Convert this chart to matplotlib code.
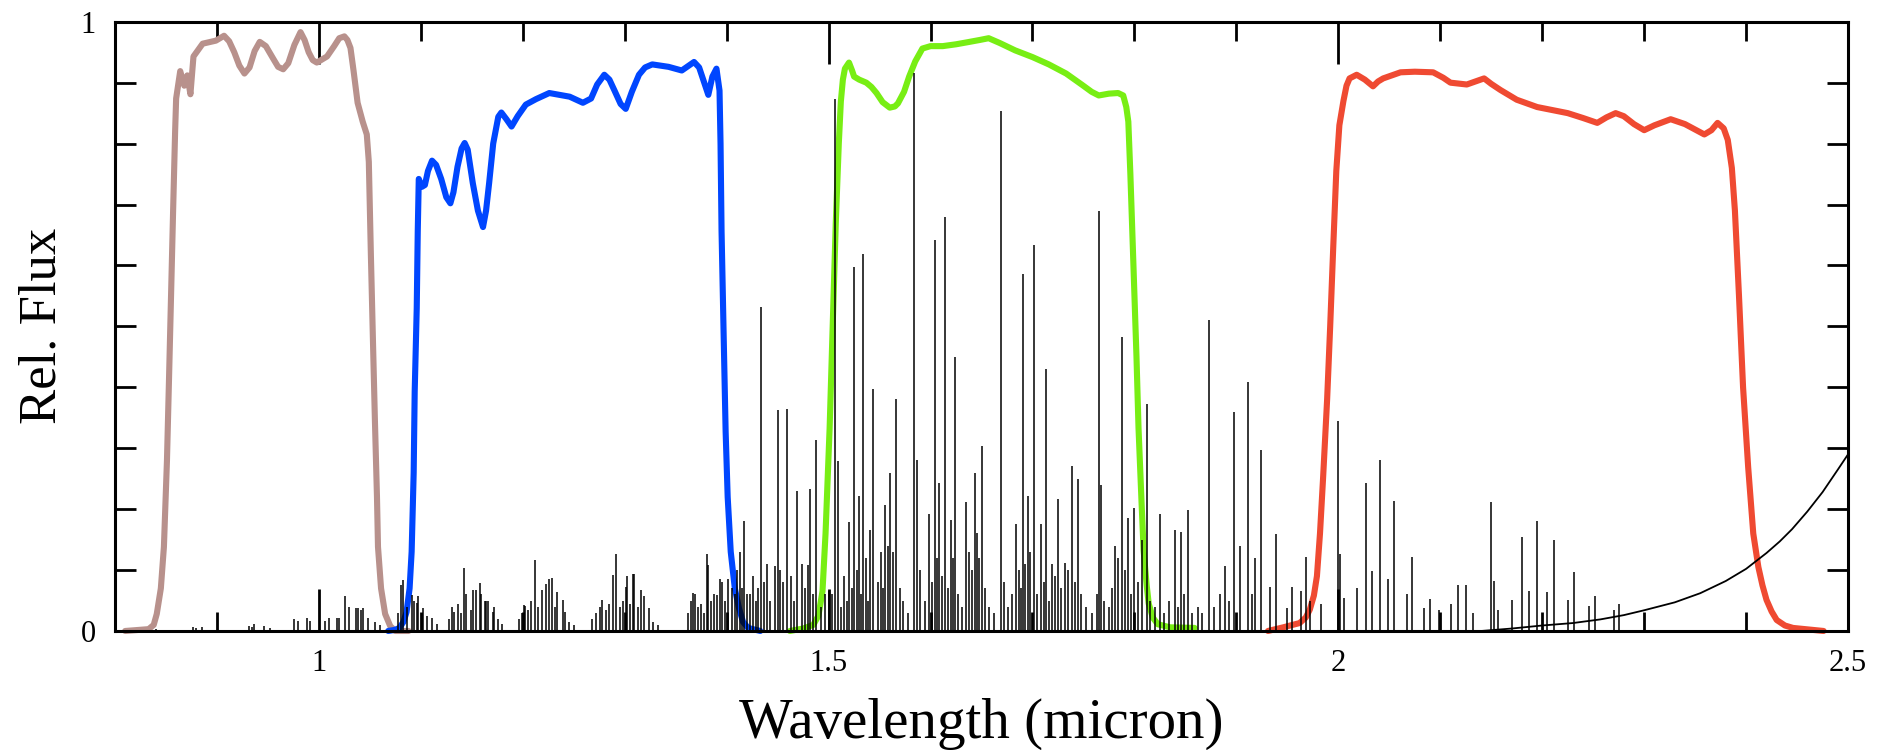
"""
Filter transmission curves (Y, J, H, K) over the near-IR night-sky
emission spectrum (OH lines plus thermal background).
"""

import numpy as np
import matplotlib
matplotlib.use("Agg")
import matplotlib.pyplot as plt
from matplotlib.ticker import MultipleLocator, FixedLocator, FuncFormatter

# -----------------------------
# Filter curves (wavelength in micron, relative transmission)
# -----------------------------
Y_WL = [0.810, 0.833, 0.838, 0.841, 0.845, 0.848, 0.851, 0.853, 0.855, 0.857, 0.859,
        0.860, 0.864, 0.868, 0.871, 0.874, 0.877, 0.886, 0.899, 0.907, 0.912, 0.917,
        0.922, 0.927, 0.932, 0.937, 0.942, 0.948, 0.955, 0.960, 0.965, 0.970, 0.976,
        0.982, 0.986, 0.990, 0.994, 0.998, 1.003, 1.008, 1.015, 1.020, 1.025, 1.028,
        1.031, 1.034, 1.038, 1.043, 1.047, 1.049, 1.051, 1.053, 1.055, 1.057, 1.058,
        1.061, 1.065, 1.070, 1.075, 1.088]
Y_TR = [0.000, 0.003, 0.010, 0.028, 0.070, 0.138, 0.280, 0.413, 0.550, 0.688, 0.820,
        0.874, 0.919, 0.895, 0.912, 0.881, 0.943, 0.964, 0.969, 0.977, 0.968, 0.950,
        0.928, 0.915, 0.925, 0.952, 0.967, 0.960, 0.940, 0.926, 0.922, 0.932, 0.962,
        0.983, 0.970, 0.950, 0.937, 0.933, 0.938, 0.943, 0.960, 0.973, 0.976, 0.970,
        0.957, 0.920, 0.867, 0.836, 0.815, 0.770, 0.619, 0.480, 0.344, 0.220, 0.138,
        0.070, 0.028, 0.008, 0.000, 0.000]

J_WL = [1.068, 1.075, 1.079, 1.083, 1.086, 1.089, 1.091, 1.093, 1.094, 1.096, 1.097,
        1.098, 1.101, 1.104, 1.107, 1.111, 1.115, 1.120, 1.125, 1.129, 1.132, 1.136,
        1.140, 1.143, 1.146, 1.151, 1.156, 1.161, 1.164, 1.167, 1.171, 1.176, 1.179,
        1.184, 1.189, 1.195, 1.203, 1.213, 1.226, 1.236, 1.246, 1.259, 1.267, 1.273,
        1.280, 1.285, 1.290, 1.296, 1.301, 1.307, 1.314, 1.320, 1.327, 1.343, 1.356,
        1.362, 1.368, 1.373, 1.376, 1.382, 1.386, 1.390, 1.393, 1.394, 1.395, 1.397,
        1.399, 1.401, 1.404, 1.408, 1.412, 1.416, 1.421, 1.433]
J_TR = [0.000, 0.002, 0.005, 0.015, 0.031, 0.070, 0.130, 0.260, 0.393, 0.530, 0.656,
        0.742, 0.729, 0.732, 0.755, 0.772, 0.765, 0.742, 0.712, 0.702, 0.720, 0.762,
        0.792, 0.801, 0.790, 0.735, 0.690, 0.663, 0.690, 0.735, 0.800, 0.844, 0.851,
        0.840, 0.828, 0.845, 0.864, 0.873, 0.883, 0.880, 0.877, 0.867, 0.874, 0.897,
        0.913, 0.905, 0.887, 0.865, 0.857, 0.885, 0.913, 0.925, 0.930, 0.926, 0.920,
        0.927, 0.934, 0.925, 0.910, 0.880, 0.910, 0.923, 0.887, 0.800, 0.656, 0.490,
        0.327, 0.220, 0.130, 0.070, 0.038, 0.015, 0.005, 0.000]

H_WL = [1.462, 1.475, 1.485, 1.490, 1.494, 1.497, 1.501, 1.504, 1.507, 1.510, 1.512,
        1.514, 1.516, 1.520, 1.523, 1.525, 1.530, 1.537, 1.542, 1.547, 1.553, 1.560,
        1.565, 1.568, 1.574, 1.579, 1.585, 1.592, 1.600, 1.612, 1.625, 1.635, 1.648,
        1.657, 1.668, 1.683, 1.700, 1.716, 1.733, 1.749, 1.758, 1.765, 1.775, 1.784,
        1.789, 1.792, 1.794, 1.796, 1.799, 1.802, 1.804, 1.807, 1.809, 1.812, 1.814,
        1.818, 1.823, 1.835, 1.859]
H_TR = [0.000, 0.004, 0.010, 0.025, 0.065, 0.160, 0.333, 0.500, 0.668, 0.800, 0.869,
        0.905, 0.923, 0.933, 0.920, 0.910, 0.905, 0.900, 0.893, 0.883, 0.868, 0.859,
        0.861, 0.866, 0.885, 0.910, 0.935, 0.956, 0.960, 0.960, 0.963, 0.966, 0.970,
        0.973, 0.965, 0.953, 0.942, 0.930, 0.915, 0.896, 0.885, 0.879, 0.882, 0.883,
        0.879, 0.860, 0.836, 0.750, 0.601, 0.450, 0.333, 0.210, 0.132, 0.075, 0.045,
        0.022, 0.011, 0.006, 0.005]

K_WL = [1.931, 1.946, 1.962, 1.968, 1.972, 1.976, 1.979, 1.982, 1.985, 1.989, 1.992,
        1.995, 1.998, 2.001, 2.005, 2.008, 2.011, 2.018, 2.026, 2.034, 2.039, 2.044,
        2.061, 2.075, 2.093, 2.103, 2.110, 2.126, 2.143, 2.150, 2.159, 2.175, 2.185,
        2.195, 2.210, 2.225, 2.240, 2.254, 2.263, 2.272, 2.280, 2.290, 2.300, 2.310,
        2.326, 2.340, 2.359, 2.366, 2.372, 2.378, 2.382, 2.386, 2.389, 2.393, 2.397,
        2.402, 2.407, 2.412, 2.416, 2.420, 2.425, 2.430, 2.438, 2.446, 2.476]
K_TR = [0.000, 0.006, 0.013, 0.022, 0.035, 0.058, 0.090, 0.160, 0.250, 0.380, 0.500,
        0.630, 0.755, 0.830, 0.870, 0.895, 0.907, 0.913, 0.905, 0.894, 0.902, 0.907,
        0.917, 0.918, 0.917, 0.908, 0.900, 0.897, 0.907, 0.898, 0.888, 0.872, 0.866,
        0.860, 0.855, 0.850, 0.842, 0.834, 0.843, 0.850, 0.845, 0.832, 0.822, 0.830,
        0.840, 0.832, 0.815, 0.822, 0.834, 0.825, 0.806, 0.760, 0.690, 0.550, 0.400,
        0.269, 0.160, 0.105, 0.075, 0.051, 0.032, 0.018, 0.009, 0.005, 0.000]

# -----------------------------
# Thermal background continuum
# -----------------------------
THERM_WL = [2.140, 2.170, 2.200, 2.230, 2.257, 2.280, 2.300, 2.330, 2.355, 2.380,
            2.400, 2.420, 2.433, 2.445, 2.460, 2.475, 2.490, 2.500]
THERM_FL = [0.000, 0.004, 0.009, 0.013, 0.019, 0.026, 0.034, 0.047, 0.062, 0.082,
            0.102, 0.128, 0.147, 0.167, 0.196, 0.228, 0.265, 0.290]

# -----------------------------
# OH emission lines (centre wavelength, peak relative flux)
# -----------------------------
OH_WL = [
    0.840, 0.877, 0.879, 0.885, 0.931, 0.934, 0.936, 0.946, 0.952, 0.976, 0.980, 0.988,
    0.991, 1.006, 1.010, 1.018, 1.020, 1.026, 1.030, 1.036, 1.038, 1.041, 1.043, 1.048,
    1.055, 1.060,
    1.078, 1.081, 1.083, 1.086, 1.091, 1.093, 1.096, 1.097, 1.101, 1.102, 1.106, 1.111,
    1.116, 1.128, 1.131, 1.133, 1.136, 1.139, 1.142, 1.144, 1.149, 1.151, 1.154, 1.158,
    1.159, 1.163, 1.164, 1.166, 1.171, 1.172, 1.176, 1.180,
    1.196, 1.199, 1.201, 1.202, 1.205, 1.208, 1.212, 1.215, 1.219, 1.223, 1.226, 1.229,
    1.232, 1.234, 1.239, 1.241, 1.245, 1.250,
    1.268, 1.272, 1.276, 1.278, 1.282, 1.285, 1.289, 1.291, 1.295, 1.298, 1.301, 1.302,
    1.305, 1.308, 1.309, 1.313, 1.316, 1.319, 1.324, 1.328, 1.333,
    1.362, 1.365, 1.367, 1.369, 1.372, 1.375, 1.378, 1.381, 1.382, 1.385, 1.388, 1.391,
    1.393, 1.395, 1.398, 1.401, 1.405, 1.408, 1.410, 1.413, 1.415, 1.417, 1.420, 1.423,
    1.426, 1.429, 1.431, 1.434, 1.437, 1.440, 1.443, 1.447, 1.450, 1.452, 1.455, 1.459,
    1.463, 1.466, 1.469, 1.474, 1.477, 1.480, 1.482, 1.485, 1.488, 1.493, 1.496, 1.500,
    1.503, 1.506, 1.509, 1.512, 1.515, 1.518, 1.520, 1.523, 1.525, 1.528, 1.530, 1.532,
    1.534, 1.537, 1.539, 1.541, 1.544, 1.548, 1.551, 1.553, 1.555, 1.558, 1.560, 1.563,
    1.566, 1.570, 1.573, 1.578, 1.584, 1.587, 1.590, 1.595, 1.598, 1.601, 1.604, 1.606,
    1.608, 1.611, 1.614, 1.617, 1.620, 1.622, 1.624, 1.627, 1.631, 1.635, 1.638, 1.641,
    1.644, 1.646, 1.648, 1.650, 1.653, 1.657, 1.662, 1.669, 1.672, 1.676, 1.680, 1.684,
    1.687, 1.689, 1.691, 1.693, 1.696, 1.698, 1.701, 1.704, 1.708, 1.711, 1.713, 1.716,
    1.719, 1.722, 1.725, 1.728, 1.732, 1.735, 1.739, 1.742, 1.745, 1.748, 1.752, 1.758,
    1.763, 1.765, 1.767, 1.770, 1.775, 1.778, 1.781, 1.784, 1.788, 1.791, 1.794, 1.797,
    1.800, 1.803, 1.807, 1.812, 1.815, 1.820, 1.825, 1.829, 1.834, 1.840, 1.843, 1.846,
    1.849, 1.853, 1.856,
    1.862, 1.866, 1.873, 1.878, 1.884, 1.889, 1.893, 1.898, 1.904, 1.911, 1.915, 1.918,
    1.924, 1.933, 1.939, 1.950, 1.955, 1.963, 1.968, 1.972, 1.983,
    2.000, 2.002, 2.006, 2.018, 2.027, 2.033, 2.041, 2.049, 2.055, 2.067, 2.072, 2.084,
    2.090, 2.099, 2.111, 2.117, 2.125, 2.132, 2.150, 2.153, 2.157, 2.170, 2.180, 2.187,
    2.195, 2.205, 2.212, 2.225, 2.231, 2.246, 2.252, 2.270, 2.275,
]
OH_HT = [
    0.004, 0.007, 0.005, 0.006, 0.008, 0.007, 0.011, 0.008, 0.005, 0.019, 0.017, 0.021,
    0.016, 0.016, 0.021, 0.022, 0.022, 0.057, 0.040, 0.038, 0.038, 0.035, 0.038, 0.022,
    0.015, 0.010,
    0.030, 0.076, 0.084, 0.040, 0.059, 0.050, 0.046, 0.057, 0.030, 0.038, 0.025, 0.021,
    0.012, 0.020, 0.040, 0.031, 0.045, 0.030, 0.103, 0.060, 0.034, 0.067, 0.067, 0.078,
    0.060, 0.050, 0.049, 0.050, 0.031, 0.040, 0.020, 0.012,
    0.020, 0.030, 0.043, 0.041, 0.035, 0.050, 0.117, 0.040, 0.067, 0.077, 0.086, 0.087,
    0.040, 0.064, 0.051, 0.031, 0.015, 0.010,
    0.020, 0.030, 0.040, 0.051, 0.035, 0.045, 0.092, 0.126, 0.040, 0.050, 0.073, 0.090,
    0.045, 0.093, 0.094, 0.040, 0.067, 0.057, 0.038, 0.015, 0.010,
    0.030, 0.050, 0.062, 0.061, 0.040, 0.045, 0.030, 0.127, 0.108, 0.050, 0.060, 0.059,
    0.085, 0.080, 0.050, 0.086, 0.070, 0.060, 0.100, 0.130, 0.070, 0.181, 0.060, 0.061,
    0.090, 0.050, 0.070, 0.532, 0.080, 0.110, 0.050, 0.107, 0.363, 0.100, 0.080, 0.364,
    0.090, 0.050, 0.230, 0.110, 0.070, 0.109, 0.233, 0.060, 0.313, 0.040, 0.060, 0.065,
    0.060, 0.873, 0.279, 0.040, 0.090, 0.050, 0.179, 0.070, 0.598, 0.100, 0.222, 0.060,
    0.618, 0.120, 0.050, 0.166, 0.397, 0.080, 0.130, 0.070, 0.206, 0.140, 0.259, 0.130,
    0.380, 0.070, 0.050, 0.030, 0.916, 0.280, 0.100, 0.050, 0.192, 0.080, 0.641, 0.120,
    0.243, 0.090, 0.680, 0.070, 0.182, 0.120, 0.450, 0.060, 0.040, 0.212, 0.130, 0.100,
    0.259, 0.160, 0.120, 0.303, 0.070, 0.040, 0.030, 0.853, 0.080, 0.040, 0.060, 0.176,
    0.100, 0.070, 0.586, 0.110, 0.222, 0.130, 0.633, 0.060, 0.176, 0.080, 0.430, 0.050,
    0.110, 0.090, 0.216, 0.070, 0.112, 0.100, 0.271, 0.080, 0.249, 0.060, 0.040, 0.030,
    0.060, 0.690, 0.239, 0.050, 0.040, 0.070, 0.139, 0.120, 0.482, 0.100, 0.186, 0.060,
    0.202, 0.080, 0.149, 0.373, 0.050, 0.040, 0.192, 0.030, 0.050, 0.166, 0.040, 0.162,
    0.060, 0.199, 0.030,
    0.040, 0.030, 0.511, 0.040, 0.060, 0.106, 0.050, 0.360, 0.139, 0.408, 0.060, 0.120,
    0.297, 0.073, 0.159, 0.038, 0.073, 0.065, 0.121, 0.050, 0.044,
    0.345, 0.126, 0.054, 0.071, 0.243, 0.098, 0.281, 0.085, 0.213, 0.061, 0.121, 0.037,
    0.052, 0.034, 0.044, 0.075, 0.076, 0.030, 0.212, 0.082, 0.035, 0.051, 0.154, 0.066,
    0.181, 0.064, 0.149, 0.051, 0.096, 0.041, 0.057, 0.035, 0.044,
]

FILTER_COLORS = {"Y": "#b8918c", "J": "#0046ff", "H": "#78ee14", "K": "#ef4a32"}

# -----------------------------
# Figure
# -----------------------------
plt.rcParams["font.family"] = ["Liberation Serif", "DejaVu Serif"]

fig = plt.figure(figsize=(18.91, 7.5), dpi=100)
ax = fig.add_axes([0.0608, 0.1587, 0.9165, 0.8123])

# filter curves
for name, wl, tr in [("Y", Y_WL, Y_TR), ("J", J_WL, J_TR), ("H", H_WL, H_TR), ("K", K_WL, K_TR)]:
    ax.plot(wl, tr, color=FILTER_COLORS[name], lw=4.4, solid_capstyle="round",
            solid_joinstyle="round", zorder=2, clip_on=False)

# sky: OH lines and thermal continuum
ax.vlines(OH_WL, 0, OH_HT, color="black", lw=1.1, zorder=3)
ax.plot(THERM_WL, THERM_FL, color="black", lw=1.3, zorder=3)

ax.set_xlim(0.8, 2.5)
ax.set_ylim(0, 1)

ax.xaxis.set_major_locator(FixedLocator([1.0, 1.5, 2.0, 2.5]))
ax.xaxis.set_minor_locator(MultipleLocator(0.1))
ax.xaxis.set_major_formatter(FuncFormatter(lambda v, p: f"{v:g}"))
ax.yaxis.set_major_locator(FixedLocator([0, 1]))
ax.yaxis.set_minor_locator(MultipleLocator(0.1))
ax.yaxis.set_major_formatter(FuncFormatter(lambda v, p: f"{v:g}"))

ax.tick_params(axis="both", which="both", direction="in", top=True, right=True,
               width=2, labelsize=22)
ax.tick_params(axis="x", which="major", length=30, pad=13)
ax.tick_params(axis="x", which="minor", length=14)
ax.tick_params(axis="y", which="both", length=15, pad=14)

for side in ax.spines.values():
    side.set_linewidth(2.2)

ax.set_xlabel("Wavelength (micron)", fontsize=41, labelpad=14)
ax.set_ylabel("Rel. Flux", fontsize=38, labelpad=10)

fig.savefig("out.png", dpi=100)
